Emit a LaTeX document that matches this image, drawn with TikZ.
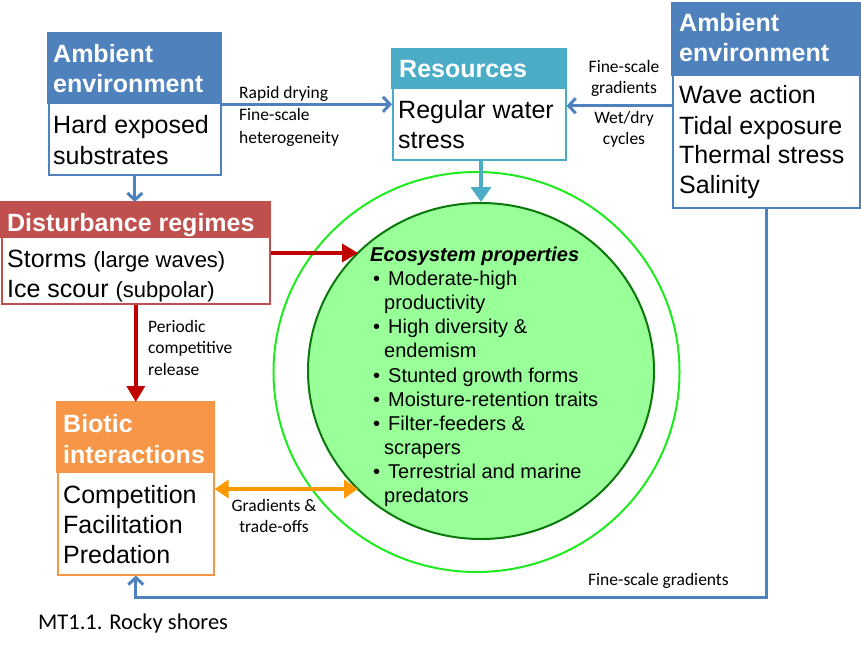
\documentclass[tikz,border=0pt]{standalone}
\usepackage{fontspec}
\setmainfont{Liberation Sans}
\newfontfamily\calib{Carlito}
\usetikzlibrary{arrows.meta,calc,shapes.geometric}
\definecolor{ablue}{HTML}{4F81BD}
\definecolor{rblue}{HTML}{4BACC6}
\definecolor{dred}{HTML}{C0504D}
\definecolor{bor}{HTML}{F79646}
\definecolor{arred}{HTML}{C00000}
\definecolor{arorange}{HTML}{FF9900}
\definecolor{lgreen}{HTML}{99FF99}
\definecolor{dgreen}{HTML}{0A780A}
\definecolor{bgreen}{HTML}{1EEB1E}
\tikzset{
  boxnode/.style={draw=#1, line width=1.6pt, fill=white, inner sep=0pt, anchor=north west},
  hdr/.style={font=\bfseries\fontsize{25}{30}\selectfont, text=white, anchor=base west, inner sep=0pt},
  body/.style={font=\fontsize{25}{30}\selectfont, anchor=base west, inner sep=0pt},
  lbl/.style={font=\calib\fontsize{17.5}{21}\selectfont, inner sep=0pt, anchor=base west},
  lblc/.style={font=\calib\fontsize{17.5}{21}\selectfont, inner sep=0pt, anchor=base},
  eco/.style={font=\fontsize{20}{24}\selectfont, anchor=base west, inner sep=0pt},
  bluearr/.style={draw=ablue, line width=3pt, -{Straight Barb[length=7pt,width=15pt]}},
  redarr/.style={draw=arred, line width=3.5pt, -{Triangle[length=16pt,width=18pt]}},
}
\begin{document}
\begin{tikzpicture}[x=1pt,y=-1pt]
\useasboundingbox (0,0) rectangle (861,650);

% boxes
\node[boxnode=ablue, minimum width=172pt, minimum height=141pt] (amb1) at (48,33) {};
\fill[ablue] ($(amb1.north west)+(-0.8,-0.8)$) rectangle ($(amb1.north east)+(0.8,71)$);
\node[boxnode=rblue, minimum width=173pt, minimum height=110pt] (res) at (392,49) {};
\fill[rblue] ($(res.north west)+(-0.8,-0.8)$) rectangle ($(res.north east)+(0.8,40)$);
\node[boxnode=ablue, minimum width=187pt, minimum height=204pt] (amb2) at (672,3) {};
\fill[ablue] ($(amb2.north west)+(-0.8,-0.8)$) rectangle ($(amb2.north east)+(0.8,73)$);
\node[boxnode=dred, minimum width=268pt, minimum height=101pt] (dist) at (1,202) {};
\fill[dred] ($(dist.north west)+(-0.8,-0.8)$) rectangle ($(dist.north east)+(0.8,36)$);
\node[boxnode=bor, minimum width=156pt, minimum height=172pt] (bio) at (57,402) {};
\fill[bor] ($(bio.north west)+(-0.8,-0.8)$) rectangle ($(bio.north east)+(0.8,71)$);

% circles
\node[draw=bgreen, line width=2pt, ellipse, minimum width=406pt, minimum height=400pt, inner sep=0pt] (outer) at (476.5,372) {};
\node[draw=dgreen, fill=lgreen, line width=2pt, ellipse, minimum width=346pt, minimum height=336pt, inner sep=0pt] (inner) at (481,371) {};

% box texts
\node[hdr] (a1h1) at (53,63) {Ambient};
\node[hdr] (a1h2) at (53,93) {environment};
\node[body] (a1b1) at (53,133) {Hard exposed};
\node[body] (a1b2) at (53,164) {substrates};

\node[hdr] (rh1) at (399,78) {Resources};
\node[body] (rb1) at (398,118) {Regular water};
\node[body] (rb2) at (398,148) {stress};

\node[hdr] (a2h1) at (679,32) {Ambient};
\node[hdr] (a2h2) at (679,62) {environment};
\node[body] (a2b1) at (679,104) {Wave action};
\node[body] (a2b2) at (679,134) {Tidal exposure};
\node[body] (a2b3) at (679,163) {Thermal stress};
\node[body] (a2b4) at (679,193) {Salinity};

\node[hdr] (dh1) at (7,231) {Disturbance regimes};
\node[body] (db1) at (7,267) {Storms {\fontsize{22}{26}\selectfont(large waves)}};
\node[body] (db2) at (7,297) {Ice scour {\fontsize{22}{26}\selectfont(subpolar)}};

\node[hdr] (bh1) at (63,432) {Biotic};
\node[hdr] (bh2) at (63,463) {interactions};
\node[body] (bb1) at (63,503) {Competition};
\node[body] (bb2) at (63,533) {Facilitation};
\node[body] (bb3) at (63,563) {Predation};

% ecosystem text
\node[eco, font=\bfseries\itshape\fontsize{20}{24}\selectfont] (et) at (370,261) {Ecosystem properties};
\foreach \y/\t [count=\i] in {285/Moderate-high, 333/High diversity \&, 382/Stunted growth forms, 406/Moisture-retention traits, 430/Filter-feeders \&, 478/Terrestrial and marine}{
  \node[eco] (eb\i) at (373,\y) {•};
  \node[eco] (et\i) at (388,\y) {\t};
}
\foreach \y/\t [count=\i] in {309/productivity, 357/endemism, 454/scrapers, 502/predators}{
  \node[eco] (ec\i) at (384,\y) {\t};
}

% connector labels
\node[lbl] (l1a) at (239,99) {Rapid drying};
\node[lbl] (l1b) at (239,121) {Fine-scale};
\node[lbl] (l1c) at (239,143) {heterogeneity};
\node[lblc] (l2a) at (624,73) {Fine-scale};
\node[lblc] (l2b) at (624,94) {gradients};
\node[lblc] (l2c) at (624,123) {Wet/dry};
\node[lblc] (l2d) at (624,144) {cycles};
\node[lbl] (l3a) at (148,332) {Periodic};
\node[lbl] (l3b) at (148,353) {competitive};
\node[lbl] (l3c) at (148,375) {release};
\node[lblc] (l4a) at (274,511) {Gradients \&};
\node[lblc] (l4b) at (274,532) {trade-offs};
\node[lbl] (l5) at (588,585) {Fine-scale gradients};
\node[anchor=base west, inner sep=0pt, font=\calib\fontsize{22.5}{27}\selectfont] (title) at (38,629) {MT1.1. Rocky shores};

% connectors
\coordinate (dtip) at (358,253);
\coordinate (otip) at (358,489);
\coordinate (botc) at (0,597);
\draw[bluearr] (amb1.east) -- (res.west |- amb1.east);
\draw[bluearr] (amb2.west) -- (res.east |- amb2.west);
\draw[bluearr] (amb1.south) -- (amb1.south |- dist.north);
\draw[draw=rblue, line width=4.5pt, -{Triangle[length=15pt,width=20pt]}] (res.south -| inner.north) -- (inner.north);
\draw[redarr] (dist.east |- dtip) -- (dtip);
\draw[redarr] (dist.south -| bio.north) -- (bio.north);
\draw[draw=arorange, line width=3.5pt, {Triangle[length=14pt,width=18pt]}-{Triangle[length=14pt,width=18pt]}] (bio.east |- otip) -- (otip);
\draw[bluearr, line join=miter] (amb2.south) -- (amb2.south |- botc) -- (bio.south |- botc) -- (bio.south);
\end{tikzpicture}
\end{document}
